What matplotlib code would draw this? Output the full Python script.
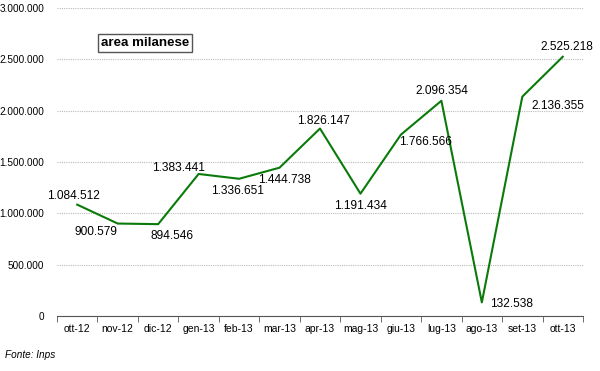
import matplotlib
matplotlib.use("Agg")
import matplotlib.pyplot as plt
import numpy as np

categories = ["ott-12", "nov-12", "dic-12", "gen-13", "feb-13", "mar-13", "apr-13",
              "mag-13", "giu-13", "lug-13", "ago-13", "set-13", "ott-13"]
values = [1084512, 900579, 894546, 1383441, 1336651, 1444738, 1826147,
          1191434, 1766566, 2096354, 132538, 2136355, 2525218]
value_labels = ["1.084.512", "900.579", "894.546", "1.383.441", "1.336.651", "1.444.738",
                "1.826.147", "1.191.434", "1.766.566", "2.096.354", "132.538",
                "2.136.355", "2.525.218"]
yticks = [0, 500000, 1000000, 1500000, 2000000, 2500000, 3000000]
ytick_labels = ["0", "500.000", "1.000.000", "1.500.000", "2.000.000", "2.500.000", "3.000.000"]

# label offsets in pixels (dx, dy)
offsets = [(-4, 9), (-22, -8), (14, -12), (-20, 6), (-2, -12), (5, -12), (3, 8),
           (0, -12), (25, -7), (0, 10), (30, -2), (36, -9), (4, 10)]

plt.rcParams['font.family'] = ['Liberation Sans', 'DejaVu Sans']

fig = plt.figure(figsize=(6, 3.71), dpi=100)
ax = fig.add_axes([57/600, 1-316/371, (583-57)/600, (316-8)/371])

x = np.arange(len(categories))
ax.plot(x, values, color="#0a7a0a", lw=1.5)

for xi, v, lab, (dx, dy) in zip(x, values, value_labels, offsets):
    ax.annotate(lab, (xi, v), xytext=(dx, dy), textcoords="offset pixels",
                ha="center", va="center", fontsize=8.6, color="black")

ax.set_xlim(-0.5, len(categories) - 0.5)
ax.set_ylim(0, 3000000)
ax.set_yticks(yticks)
ax.set_yticklabels(ytick_labels, fontsize=7.2)
ax.tick_params(axis="y", length=0, pad=9)
ax.set_xticks(x)
ax.set_xticklabels(categories, fontsize=7.5)
ax.tick_params(axis="x", length=0, pad=6)
ax.set_xticks(np.arange(-0.5, len(categories)), minor=True)
ax.tick_params(axis="x", which="minor", length=4, direction="out", color="#555555")

ax.grid(axis="y", color="#bbbbbb", linestyle=(0, (1, 1)), lw=0.8)
ax.set_axisbelow(True)
for s in ["left", "right", "top"]:
    ax.spines[s].set_visible(False)
ax.spines["bottom"].set_color("#555555")

fig.text(145/600, 1-43/371, "area milanese", fontsize=9.6, fontweight="bold",
         ha="center", va="center",
         bbox=dict(boxstyle="square,pad=0.2", fc="white", ec="#555555", lw=1))
fig.text(5/600, 1-355/371, "Fonte: Inps", fontsize=7.2, style="italic",
         ha="left", va="center")

fig.savefig("out.png", dpi=100)
